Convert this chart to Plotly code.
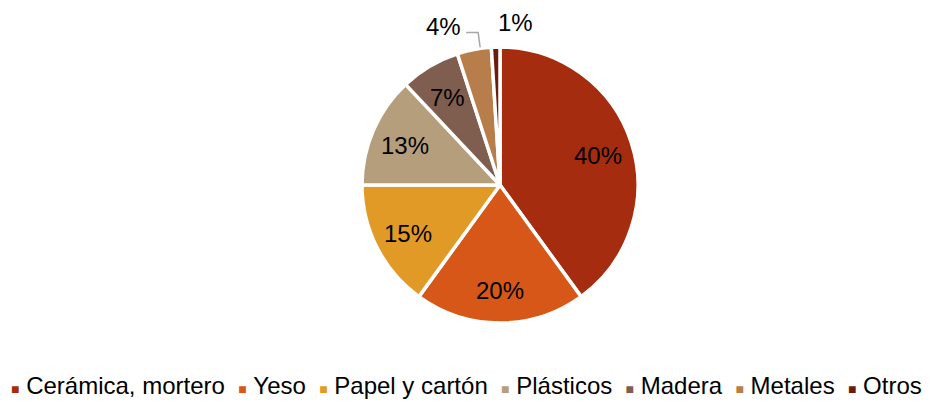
import math
import plotly.graph_objects as go

categories = ["Cerámica, mortero", "Yeso", "Papel y cartón", "Plásticos", "Madera", "Metales", "Otros"]
values = [40, 20, 15, 13, 7, 4, 1]
colors = ["#A52C0F", "#D65717", "#E29A27", "#B49E7C", "#7F5E4F", "#B77D4A", "#6B1C0C"]
outside = [False, False, False, False, False, True, True]

W, H = 932, 402
cx, cy, r = 500, 185, 138
FONT = "Liberation Sans, Arial, sans-serif"

fig = go.Figure(go.Pie(
    labels=categories,
    values=values,
    sort=False,
    direction="clockwise",
    rotation=0,
    marker=dict(colors=colors, line=dict(color="white", width=3.5)),
    textinfo="none",
    domain=dict(x=[(cx - r) / W, (cx + r) / W], y=[(H - cy - r) / H, (H - cy + r) / H]),
    hoverinfo="label+percent",
    showlegend=False,
))

total = sum(values)
cum = 0
annotations = []
shapes = []
for i, v in enumerate(values):
    mid = (cum + v / 2) / total * 2 * math.pi
    cum += v
    dx, dy = math.sin(mid), -math.cos(mid)
    pct = f"{round(v / total * 100)}%"
    if not outside[i]:
        rr = 0.75 * r
        px, py = cx + dx * rr, cy + dy * rr + 2
        annotations.append(dict(x=px / W, y=1 - py / H, xref="paper", yref="paper",
                                text=pct, showarrow=False, xanchor="center", yanchor="middle",
                                font=dict(family=FONT, size=24, color="black")))
    else:
        ex, ey = cx + dx * r, cy + dy * r
        if i == 5:
            # elbow leader line: up from the slice edge, then left to the label
            kx, ky = ex + 4, ey - 17
            tx, ty = kx - 12, ky
            shapes.append(dict(type="path", xref="paper", yref="paper",
                               path=f"M {ex / W + 6 / W},{1 - (ey - 2) / H} L {kx / W},{1 - ky / H} L {tx / W},{1 - ty / H}",
                               line=dict(color="#A6A6A6", width=1.5)))
            annotations.append(dict(x=(tx - 3) / W, y=1 - (ty - 6) / H, xref="paper", yref="paper",
                                    text=pct, showarrow=False, xanchor="right", yanchor="middle",
                                    font=dict(family=FONT, size=24, color="black")))
        else:
            annotations.append(dict(x=(ex + 20) / W, y=1 - (ey - 25) / H, xref="paper", yref="paper",
                                    text=pct, showarrow=False, xanchor="center", yanchor="middle",
                                    font=dict(family=FONT, size=24, color="black")))

nb = "\u00a0"
legend_parts = []
for lab, col in zip(categories, colors):
    legend_parts.append(f"<span style='font-size:14px;color:{col}'>■</span>{nb}{lab}")
legend_text = (nb * 2).join(legend_parts)
annotations.append(dict(x=0.5, y=1 - 385 / H, xref="paper", yref="paper",
                        text=legend_text, showarrow=False, xanchor="center", yanchor="middle",
                        font=dict(family=FONT, size=24, color="black")))

fig.update_layout(
    width=W, height=H,
    margin=dict(l=0, r=0, t=0, b=0),
    paper_bgcolor="white",
    plot_bgcolor="white",
    font=dict(family=FONT, size=24, color="black"),
    annotations=annotations,
    shapes=shapes,
)

fig.write_html("out.html")
